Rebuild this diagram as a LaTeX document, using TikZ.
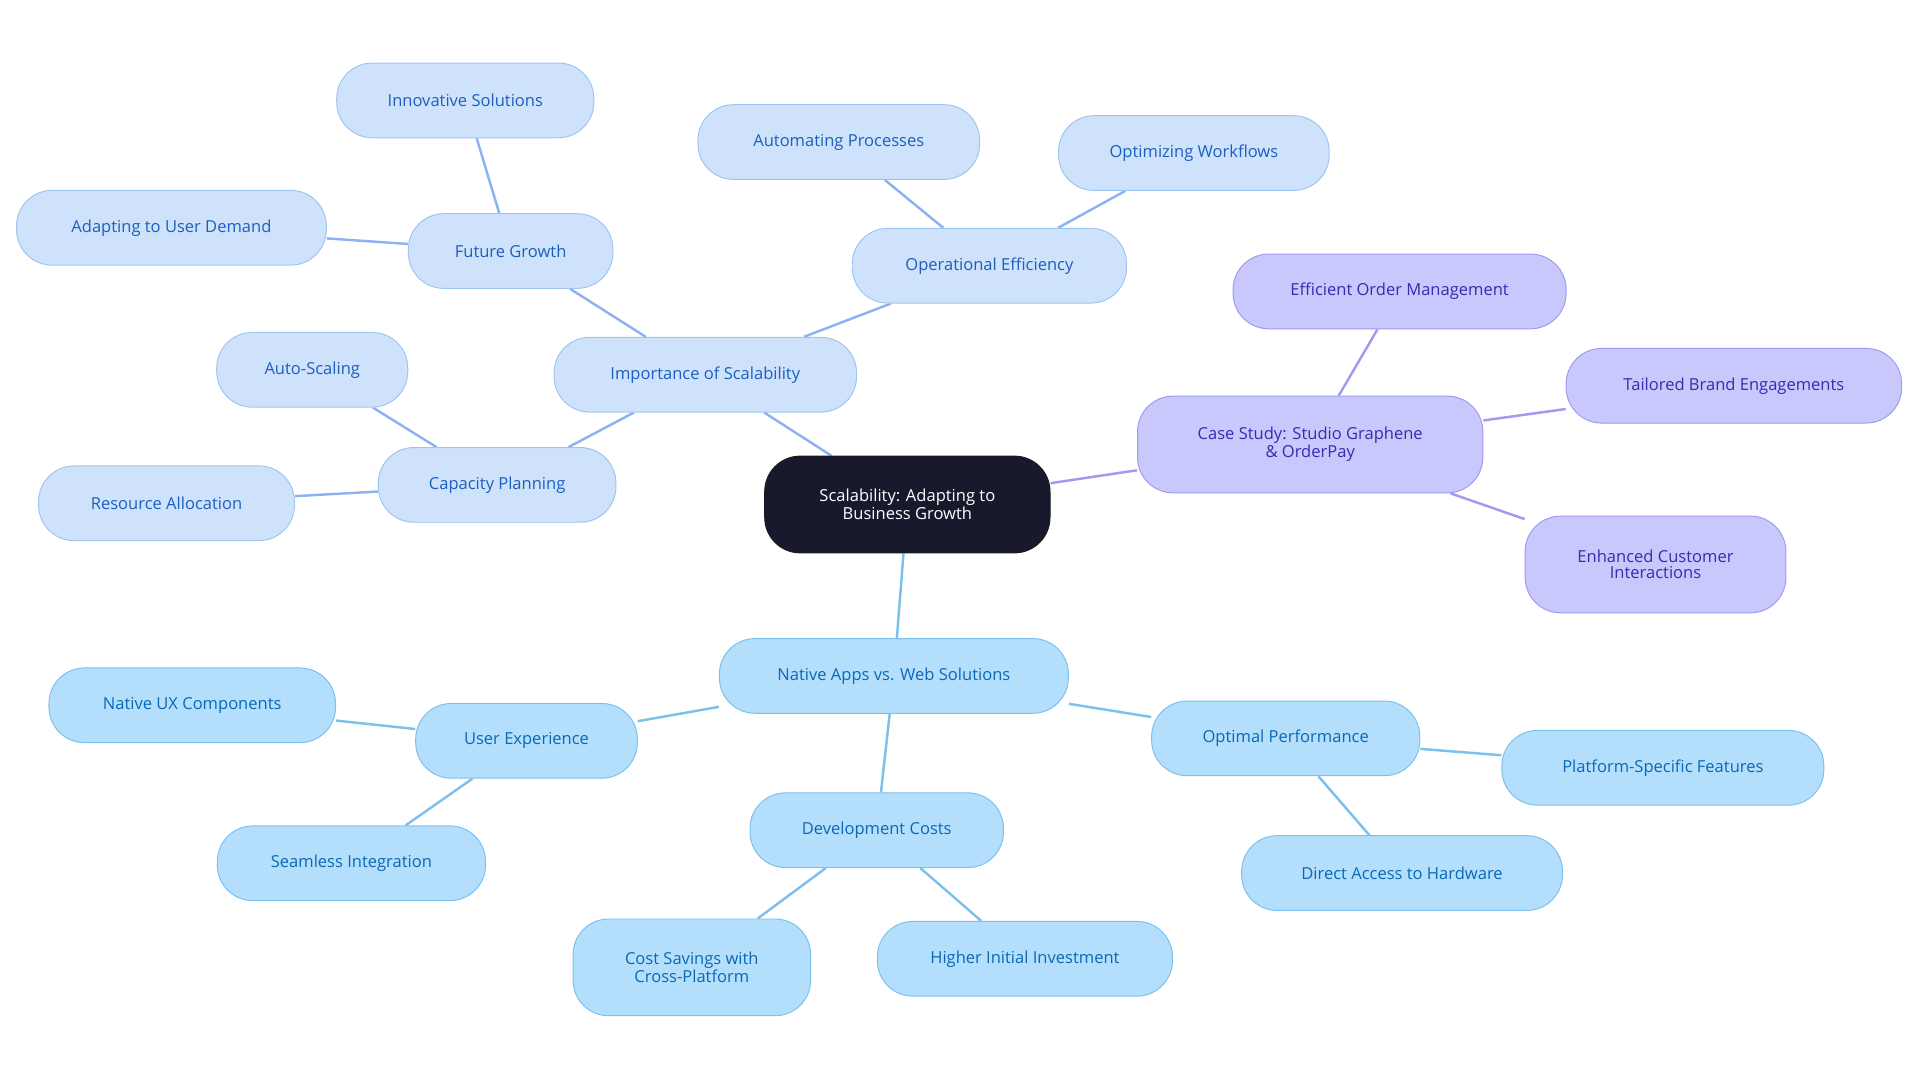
\documentclass[tikz,border=0pt]{standalone}
\usepackage{fontspec}
\setmainfont{Open Sans}
\usetikzlibrary{backgrounds}
\definecolor{gf}{HTML}{CFE2FB}\definecolor{gd}{HTML}{9EC5F0}\definecolor{gt}{HTML}{1C5FBF}
\definecolor{pf}{HTML}{C8C8FC}\definecolor{pd}{HTML}{A09AF0}\definecolor{pt}{HTML}{3A2AB0}
\definecolor{cf}{HTML}{B4DFFC}\definecolor{cd}{HTML}{7CC0EC}\definecolor{ct}{HTML}{0B68B5}
\tikzset{
 base/.style={rounded corners=29pt,minimum height=61pt,inner sep=2pt,align=center,font=\fontsize{13.5}{13}\selectfont,line width=0.8pt},
 g/.style={base,fill=gf,draw=gd,text=gt},
 p/.style={base,fill=pf,draw=pd,text=pt},
 c/.style={base,fill=cf,draw=cd,text=ct},
 ge/.style={draw=gd!90!blue,line width=2pt},
 pe/.style={draw=pd,line width=2pt},
 ce/.style={draw=cd,line width=2pt},
}
\begin{document}
\begin{tikzpicture}[x=1pt,y=1pt]
\useasboundingbox (0,0) rectangle (1568,-884);
\node[base,fill=black!90!blue!80!gray,draw=black!90,text=white,minimum width=233pt,minimum height=79pt] (root) at (741,-412) {Scalability: Adapting to\\Business Growth};
\node[g,minimum width=247pt] (imp) at (576,-306) {Importance of Scalability};
\node[g,minimum width=167pt] (fg) at (417,-205) {Future Growth};
\node[g,minimum width=210pt] (inn) at (380,-82) {Innovative Solutions};
\node[g,minimum width=253pt] (aud) at (140,-186) {Adapting to User Demand};
\node[g,minimum width=224pt] (oe) at (808,-217) {Operational Efficiency};
\node[g,minimum width=230pt] (ap) at (685,-116) {Automating Processes};
\node[g,minimum width=221pt] (ow) at (975,-125) {Optimizing Workflows};
\node[g,minimum width=194pt] (cp) at (406,-396) {Capacity Planning};
\node[g,minimum width=156pt] (as) at (255,-302) {Auto-Scaling};
\node[g,minimum width=209pt] (ra) at (136,-411) {Resource Allocation};
\node[p,minimum width=282pt,minimum height=79pt] (cs) at (1070,-363) {Case Study: Studio Graphene\\\& OrderPay};
\node[p,minimum width=272pt] (eom) at (1143,-238) {Efficient Order Management};
\node[p,minimum width=274pt] (tbe) at (1416,-315) {Tailored Brand Engagements};
\node[p,minimum width=213pt,minimum height=79pt] (eci) at (1352,-461) {Enhanced Customer\\Interactions};
\node[c,minimum width=285pt] (na) at (730,-552) {Native Apps vs. Web Solutions};
\node[c,minimum width=181pt] (ux) at (430,-605) {User Experience};
\node[c,minimum width=234pt] (nux) at (157,-576) {Native UX Components};
\node[c,minimum width=219pt] (si) at (287,-705) {Seamless Integration};
\node[c,minimum width=207pt] (dc) at (716,-678) {Development Costs};
\node[c,minimum width=194pt,minimum height=79pt] (csx) at (565,-790) {Cost Savings with\\Cross-Platform};
\node[c,minimum width=241pt] (hii) at (837,-783) {Higher Initial Investment};
\node[c,minimum width=219pt] (op) at (1050,-603) {Optimal Performance};
\node[c,minimum width=263pt] (psf) at (1358,-627) {Platform-Specific Features};
\node[c,minimum width=262pt] (dah) at (1145,-713) {Direct Access to Hardware};
\begin{scope}[on background layer]
\draw[ge] (root)--(imp); \draw[ge] (imp)--(fg); \draw[ge] (fg)--(inn); \draw[ge] (fg)--(aud);
\draw[ge] (imp)--(oe); \draw[ge] (oe)--(ap); \draw[ge] (oe)--(ow);
\draw[ge] (imp)--(cp); \draw[ge] (cp)--(as); \draw[ge] (cp)--(ra);
\draw[pe] (root)--(cs); \draw[pe] (cs)--(eom); \draw[pe] (cs)--(tbe); \draw[pe] (cs)--(eci);
\draw[ce] (root)--(na); \draw[ce] (na)--(ux); \draw[ce] (ux)--(nux); \draw[ce] (ux)--(si);
\draw[ce] (na)--(dc); \draw[ce] (dc)--(csx); \draw[ce] (dc)--(hii);
\draw[ce] (na)--(op); \draw[ce] (op)--(psf); \draw[ce] (op)--(dah);
\end{scope}
\end{tikzpicture}
\end{document}
